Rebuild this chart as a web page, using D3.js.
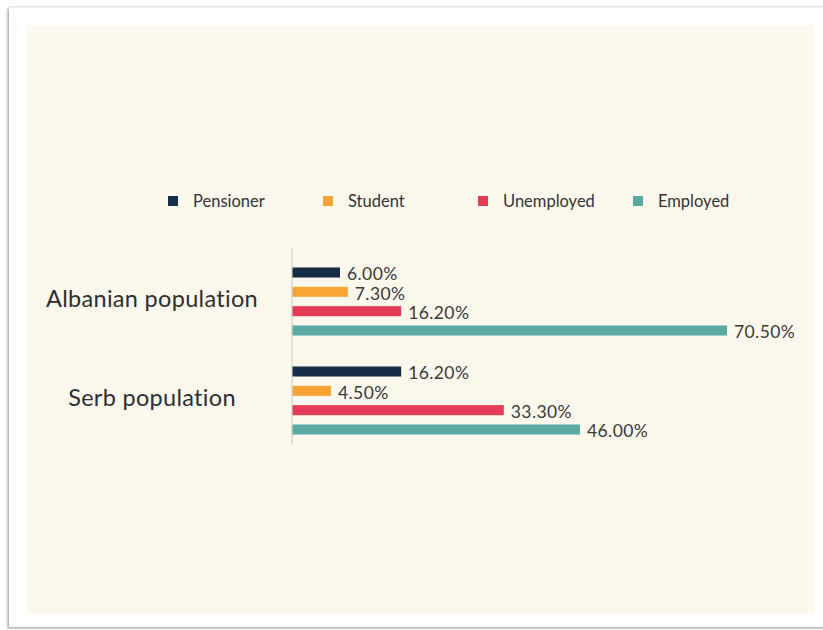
<!DOCTYPE html>
<html>
<head>
<meta charset="utf-8">
<script src="https://cdn.jsdelivr.net/npm/d3@7"></script>
<style>
  html, body { margin: 0; padding: 0; background: #ffffff; }
  svg { display: block; }
  text { font-family: Lato, "Open Sans", sans-serif; }
</style>
</head>
<body>
<svg id="chart" width="823" height="630"></svg>
<script>
// Employment status by population group (percent)
const groups = ["Albanian population", "Serb population"];
const seriesNames = ["Pensioner", "Student", "Unemployed", "Employed"];
const seriesColors = ["#152d46", "#f6a535", "#e43c56", "#5aaaa2"];
const albanianValues = [6.0, 7.3, 16.2, 70.5];
const serbValues = [16.2, 4.5, 33.3, 46.0];

const valuesByGroup = [albanianValues, serbValues];
const rows = [];
groups.forEach((g, gi) => {
  seriesNames.forEach((s, si) => {
    rows.push({ group: g, series: s, value: valuesByGroup[gi][si], color: seriesColors[si] });
  });
});

const W = 823, H = 630;
const svg = d3.select("#chart");

// card with a soft edge shadow
const defs = svg.append("defs");
const f = defs.append("filter").attr("id", "cardShadow")
  .attr("x", "-5%").attr("y", "-5%").attr("width", "110%").attr("height", "110%");
f.append("feDropShadow").attr("dx", -1.5).attr("dy", 1.5)
  .attr("stdDeviation", 1.2).attr("flood-color", "#8a8a8a").attr("flood-opacity", 0.75);

svg.append("rect").attr("x", 0).attr("y", 0).attr("width", W).attr("height", H).attr("fill", "#ffffff");
svg.append("rect").attr("x", 9).attr("y", 7).attr("width", 830).attr("height", 620)
  .attr("fill", "#ffffff").attr("filter", "url(#cardShadow)");
// light top rule of the card
svg.append("rect").attr("x", 9).attr("y", 6).attr("width", 830).attr("height", 1.5).attr("fill", "#e6e6e6");

// chart area
svg.append("rect").attr("x", 27).attr("y", 25).attr("width", 788).attr("height", 588).attr("fill", "#fdf8ee");

// scales: value axis runs from -2% so the category axis sits at its left edge
const axisX = 292;
const x = d3.scaleLinear().domain([-2, 70.5]).range([axisX, 727]);
const y0 = d3.scaleBand().domain(groups).range([252, 450]);
const y1 = d3.scaleBand().domain(seriesNames).range([0, y0.bandwidth()])
  .paddingInner(0.48).paddingOuter(0.8);

// category axis line
svg.append("line")
  .attr("x1", axisX).attr("x2", axisX).attr("y1", 248).attr("y2", 445)
  .attr("stroke", "#d2d0cb").attr("stroke-width", 1.2);

// bars
svg.append("g").selectAll("rect").data(rows).join("rect")
  .attr("x", axisX + 0.5)
  .attr("y", d => y0(d.group) + y1(d.series))
  .attr("width", d => x(d.value) - axisX - 0.5)
  .attr("height", y1.bandwidth())
  .attr("fill", d => d.color);

// value labels
svg.append("g").selectAll("text").data(rows).join("text")
  .attr("x", d => x(d.value) + 7)
  .attr("y", d => y0(d.group) + y1(d.series) + y1.bandwidth() / 2)
  .attr("dy", "0.45em")
  .attr("font-size", 17.5)
  .attr("letter-spacing", 0.4)
  .attr("fill", "#383838")
  .text(d => d.value.toFixed(2) + "%");

// group labels
svg.append("g").selectAll("text").data(groups).join("text")
  .attr("x", 152)
  .attr("y", d => y0(d) + y0.bandwidth() / 2 + 5)
  .attr("text-anchor", "middle")
  .attr("font-size", 23.5)
  .attr("letter-spacing", 0.3)
  .attr("fill", "#2e2e2e")
  .text(d => d);

// legend
const legendStep = 155, legendX = 168, legendY = 201;
const lg = svg.append("g").selectAll("g").data(seriesNames).join("g")
  .attr("transform", (d, i) => `translate(${legendX + i * legendStep},${legendY})`);
lg.append("rect").attr("x", 0).attr("y", -5).attr("width", 10).attr("height", 10)
  .attr("fill", (d, i) => seriesColors[i]);
lg.append("text").attr("x", 25).attr("y", 0).attr("dy", "0.36em")
  .attr("font-size", 16.5).attr("fill", "#333333")
  .text(d => d);
</script>
</body>
</html>
